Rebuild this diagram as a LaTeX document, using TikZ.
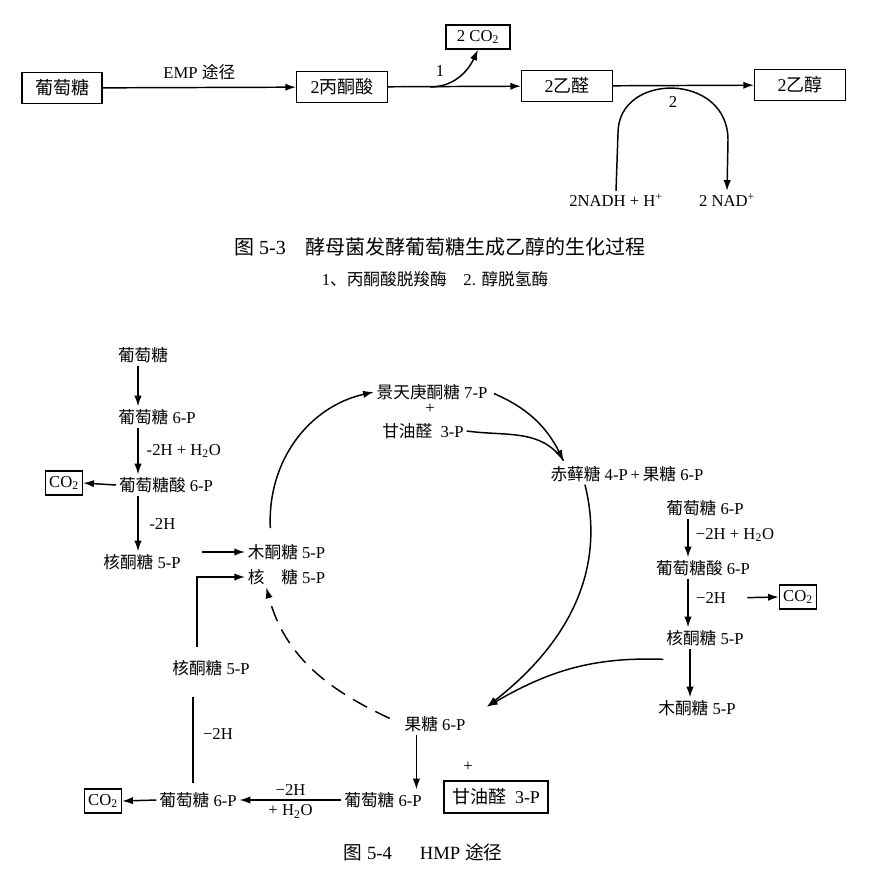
\documentclass[tikz,border=0pt]{standalone}
\usepackage{fontspec}
\setmainfont{Liberation Serif}
\newfontfamily\zhfont{Noto Sans CJK SC}
\newcommand{\zh}[1]{{\zhfont #1}}
\usetikzlibrary{arrows.meta,positioning}

\begin{document}
\begin{tikzpicture}[
  x=0.75pt,y=0.75pt,
  font=\fontsize{12.5}{14}\selectfont,
  every node/.style={inner sep=2pt},
  box/.style={draw,line width=1.1pt,inner sep=3pt,minimum width=68pt,minimum height=23pt,font=\fontsize{13.5}{15}\selectfont},
  cbox/.style={draw,line width=0.9pt,inner sep=1.5pt,minimum width=28pt,minimum height=18pt},
  arr/.style={-{Latex[length=8pt,width=5.5pt]},line width=1.1pt},
  ln/.style={line width=1.1pt}
]
\useasboundingbox (0,0) rectangle (878,-884);

% Fig. 5-3
\node[box,minimum width=60pt] (gluc) at (62,-88) {\zh{葡萄糖}};
\node[box] (pyr) at (342,-87) {2\zh{丙酮酸}};
\node[box,minimum width=48pt,minimum height=18pt,inner sep=1.5pt,font=\fontsize{12.5}{14}\selectfont] (co2a) at (478,-37) {2 CO\textsubscript{2}};
\node[box] (acet) at (567,-86) {2\zh{乙醛}};
\node[box] (eth) at (800,-85) {2\zh{乙醇}};
\node (nadh) at (616,-200) {2NADH + H\textsuperscript{+}};
\node (nad) at (727,-200) {2 NAD\textsuperscript{+}};
\coordinate (br) at (430,-87);

\draw[arr] (gluc) -- node[above=3pt] {EMP \zh{途径}} (pyr);
\draw[arr] (pyr) -- (acet);
\draw[arr] (br) to[out=0,in=-115] (co2a.south);
\node at (440,-71) {1};
\draw[arr] (acet) -- (eth);
\draw[arr] (nadh.north) -- (618,-133) .. controls (618,-72) and (728,-72) .. (728,-140) -- (nad.north);
\node at (673,-102) {2};

\node[font=\fontsize{15}{17}\selectfont] (cap1) at (440,-247)
  {\zh{图} 5-3\quad\zh{酵母菌发酵葡萄糖生成乙醇的生化过程}};
\node (sub1) at (435,-279) {1\zh{、丙酮酸脱羧酶}\quad 2. \zh{醇脱氢酶}};

% Fig. 5-4, left branch
\coordinate (lx) at (138,0);
\node (g0) at (143,-355) {\zh{葡萄糖}};
\node (g6p) at (157,-417) {\zh{葡萄糖} 6-P};
\node (g6pa) at (166,-485) {\zh{葡萄糖酸} 6-P};
\node[cbox] (co2b) at (64,-483) {CO\textsubscript{2}};
\node (ru5p) at (142,-562) {\zh{核酮糖} 5-P};
\node[anchor=west] (xu5p) at (245,-552) {\zh{木酮糖} 5-P};
\node[anchor=west] (r5p) at (245,-577) {\zh{核}\phantom{\zh{酮}}\zh{糖} 5-P};

\draw[arr] (g0.south -| lx) -- (g6p.north -| lx);
\draw[arr] (g6p.south -| lx) -- node[right=4pt] {-2H + H\textsubscript{2}O} (g6pa.north -| lx);
\draw[arr] (g6pa.west) -- (co2b.east);
\draw[arr] (g6pa.south -| lx) -- node[right=6pt] {-2H} (ru5p.north -| lx);
\draw[arr,shorten <=14pt] (ru5p.east |- xu5p.west) -- (xu5p.west);

% cycle
\node (s7p) at (432,-392) {\zh{景天庚酮糖} 7-P};
\node (pl1) at (430,-409) {+};
\node (gap) at (423,-431) {\zh{甘油醛}\ \ 3-P};
\node (e4p) at (627,-474) {\zh{赤藓糖} 4-P\,+\,\zh{果糖} 6-P};
\node (f6p) at (435,-724) {\zh{果糖} 6-P};
\coordinate (etip) at ([xshift=12pt,yshift=2pt]e4p.north west);
\coordinate (ftip) at ([xshift=14pt,yshift=5pt]f6p.north east);

\draw[arr] ([xshift=19pt,yshift=10pt]xu5p.north west) to[bend left=40] (s7p.west);
\draw[arr,shorten <=3pt] (s7p.east) to[bend left=20] (etip);
\draw[ln] (gap.east) to[out=-8,in=125] (etip);
\draw[arr] ([xshift=28pt]e4p.south west) to[out=-76,in=38] (ftip);
\draw[arr,dash pattern=on 12pt off 7pt,shorten <=10pt] (f6p.west) to[out=155,in=-75] ([xshift=16pt]r5p.south west);

% right branch
\coordinate (rx) at (688,0);
\node (rg6p) at (705,-508) {\zh{葡萄糖} 6-P};
\node (rg6pa) at (703,-568) {\zh{葡萄糖酸} 6-P};
\node (rru5p) at (705,-638) {\zh{核酮糖} 5-P};
\node (rxu5p) at (697,-708) {\zh{木酮糖} 5-P};
\node (rh2o) at (735,-535) {−2H + H\textsubscript{2}O};
\node (rh) at (711,-598) {−2H};
\node[cbox] (co2d) at (798,-597) {CO\textsubscript{2}};

\draw[arr] (rg6p.south -| rx) -- (rg6pa.north -| rx);
\draw[arr] (rg6pa.south -| rx) -- (rru5p.north -| rx);
\draw[arr,shorten <=14pt] (rh.east) -- (co2d.west);
\draw[arr] ([xshift=1.5pt]rru5p.south -| rx) -- ([xshift=1.5pt]rxu5p.north -| rx);
\draw[arr] ([yshift=-8pt]rru5p.south west) to[out=178,in=30] (ftip);

% bottom
\coordinate (vl) at (193,0);
\node (g6pb) at (383,-800) {\zh{葡萄糖} 6-P};
\node (pl2) at (468,-767) {+};
\node[box,minimum width=78pt,minimum height=24pt] (gapb) at (496,-797) {\zh{甘油醛}\ \ 3-P};
\node (g6pc) at (198,-800) {\zh{葡萄糖} 6-P};
\node[cbox] (co2c) at (103,-801) {CO\textsubscript{2}};
\node (ru5pc) at (211,-668) {\zh{核酮糖} 5-P};
\coordinate (fa) at ([xshift=11pt]f6p.south west);

\draw[arr] (fa) -- (fa |- g6pb.north);
\draw[arr] (g6pb.west) -- node[above=1pt] {−2H} node[below=1pt] {+ H\textsubscript{2}O} (g6pc.east);
\draw[arr] (g6pc.west) -- (co2c.east);
\draw[ln,shorten <=5pt,shorten >=14pt] (g6pc.north -| vl) -- node[right=5pt] {−2H} (ru5pc.south -| vl);
\draw[arr,shorten <=8pt] ([xshift=3pt]ru5pc.north -| vl) |- (r5p.west);

\node[font=\fontsize{14}{16}\selectfont] (cap2) at (423,-852) {\zh{图} 5-4\hspace{1.5em}HMP \zh{途径}};
\end{tikzpicture}
\end{document}
